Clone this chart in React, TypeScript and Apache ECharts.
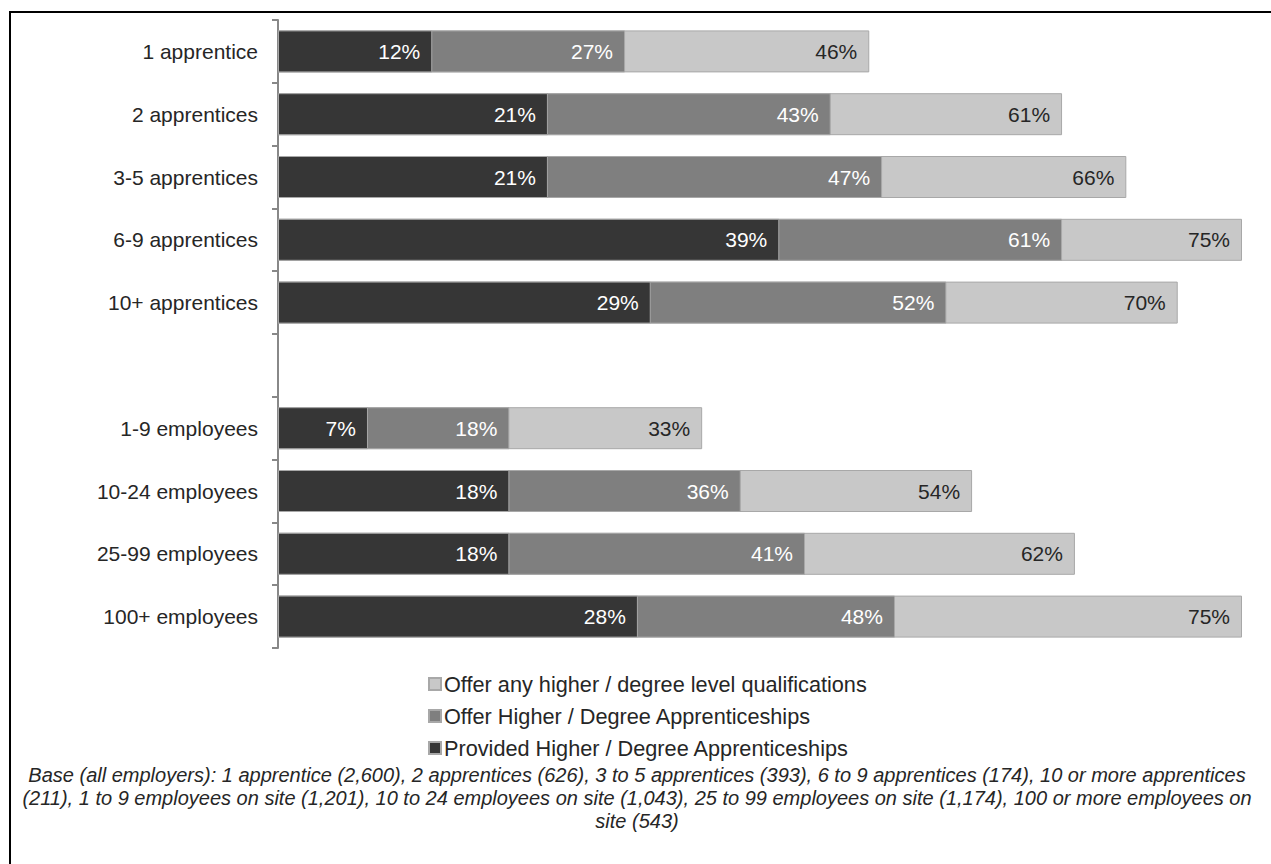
import React, { useEffect, useRef } from "react";
import * as echarts from "echarts";

const categories = [
  "1 apprentice",
  "2 apprentices",
  "3-5 apprentices",
  "6-9 apprentices",
  "10+ apprentices",
  "",
  "1-9 employees",
  "10-24 employees",
  "25-99 employees",
  "100+ employees",
];

const offerAny = [46, 61, 66, 75, 70, null, 33, 54, 62, 75];
const offerHDA = [27, 43, 47, 61, 52, null, 18, 36, 41, 48];
const providedHDA = [12, 21, 21, 39, 29, null, 7, 18, 18, 28];

const seriesNames = [
  "Offer any higher / degree level qualifications",
  "Offer Higher / Degree Apprenticeships",
  "Provided Higher / Degree Apprenticeships",
];

const footnote = [
  "Base (all employers): 1 apprentice (2,600), 2 apprentices (626), 3 to 5 apprentices (393), 6 to 9 apprentices (174), 10 or more apprentices",
  "(211), 1 to 9 employees on site (1,201), 10 to 24 employees on site (1,043), 25 to 99 employees on site (1,174), 100 or more employees on",
  "site (543)",
];

const FONT = "'Liberation Sans', Arial, sans-serif";

export default function App() {
  const ref = useRef<HTMLDivElement>(null);
  useEffect(() => {
    if (!ref.current) return;
    const chart = echarts.init(ref.current, undefined, { renderer: "svg" });
    const mk = (name: string, data: any[], color: string, labelColor: string) => ({
      name,
      type: "bar",
      data,
      barWidth: 42,
      barGap: "-100%",
      itemStyle: { color, borderColor: "#a8a8a8", borderWidth: 1 },
      label: {
        show: true,
        position: "insideRight",
        distance: 12,
        color: labelColor,
        fontFamily: FONT,
        fontSize: 21,
        formatter: (p: any) => (p.value == null ? "" : p.value + "%"),
      },
      emphasis: { disabled: true },
    });
    chart.setOption({
      animation: false,
      textStyle: { fontFamily: FONT },
      grid: { left: 278, top: 20, width: 964, height: 628, containLabel: false },
      xAxis: {
        type: "value",
        min: 0,
        max: 75,
        show: false,
      },
      yAxis: {
        type: "category",
        data: categories,
        inverse: true,
        axisLine: { show: true, lineStyle: { color: "#888888", width: 2 } },
        axisTick: { show: true, length: 6, lineStyle: { color: "#888888", width: 2 } },
        axisLabel: { color: "#262626", fontSize: 21, fontFamily: FONT, margin: 20 },
      },
      legend: {
        orient: "vertical",
        left: 423,
        top: 668,
        itemWidth: 12,
        itemHeight: 12,
        itemGap: 10,
        icon: "rect",
        data: seriesNames,
        textStyle: { fontSize: 21.7, color: "#262626", fontFamily: FONT, padding: [0, 0, 0, -2] },
        selectedMode: false,
      },
      series: [
        mk(seriesNames[0], offerAny, "#c8c8c8", "#262626"),
        mk(seriesNames[1], offerHDA, "#7f7f7f", "#ffffff"),
        mk(seriesNames[2], providedHDA, "#363636", "#ffffff"),
      ],
      graphic: [
        {
          type: "rect",
          shape: { x: 10, y: 12, width: 1300, height: 900 },
          style: { fill: "none", stroke: "#000000", lineWidth: 2 },
          silent: true,
        },
        ...footnote.map((t, i) => ({
          type: "text",
          x: 637,
          y: 775 + i * 23,
          style: {
            text: t,
            textAlign: "center",
            textVerticalAlign: "middle",
            fontFamily: FONT,
            fontStyle: "italic",
            fontSize: 20,
            fill: "#262626",
          },
          silent: true,
        })),
      ],
    });
    return () => chart.dispose();
  }, []);
  return (
    <div
      ref={ref}
      style={{ position: "absolute", left: 0, top: 0, width: 1271, height: 864, background: "#ffffff" }}
    />
  );
}
